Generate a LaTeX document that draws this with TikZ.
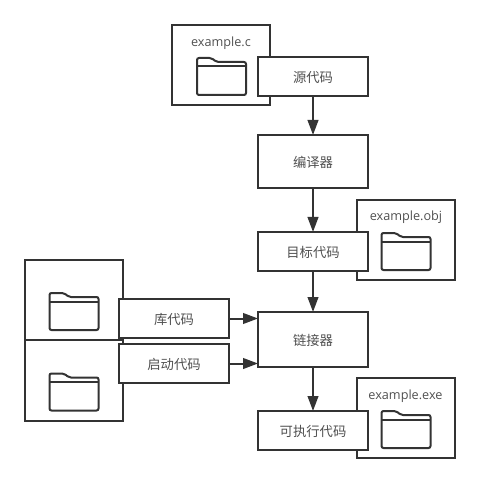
\documentclass[tikz,border=0pt]{standalone}
\usepackage{fontspec}
\setmainfont{Open Sans}
\newfontfamily\cjk{Noto Sans CJK SC}
\usepackage{xcolor}
\usetikzlibrary{arrows.meta}
\definecolor{linegray}{HTML}{333333}
\definecolor{textgray}{HTML}{505050}
\tikzset{
    filebox/.style={draw=linegray, line width=1.5pt, minimum width=73.5pt, minimum height=60pt, inner sep=0pt, outer sep=0pt},
    codebox/.style={draw=linegray, line width=1.5pt, fill=white, minimum width=82.5pt, minimum height=29.25pt, inner sep=0pt, outer sep=0pt, text=textgray, text height=10.4pt, text depth=1.2pt, font=\cjk\fontsize{10}{12}\selectfont},
    filename/.style={text=textgray, inner sep=0pt, font=\fontsize{9.5}{12}\selectfont},
    flowline/.style={draw=linegray, line width=1.5pt, -{Triangle[length=11.25pt,width=8pt]}},
    pics/folder/.style={code={
        \draw[linegray, line width=1.5pt, rounded corners=1.5pt] (-24.5,-10) -- (-24.5,-18.5) -- (-10,-18.5) -- (-5,-14.5) -- (24.5,-14.5) -- (24.5,18.5) -- (-24.5,18.5) -- cycle;
        \draw[linegray, line width=1.5pt] (-24.5,-10) -- (24.5,-10);
    }}
}
\begin{document}
\begin{tikzpicture}[x=0.75pt,y=-0.75pt]
        \useasboundingbox (0,0) rectangle (480,484);
        \node[filebox] (cfile) at (221,65) {};
        \node[filebox] (objfile) at (406,240) {};
        \node[filebox] (exefile) at (406,418) {};
        \node[filebox] (libfile) at (74,300) {};
        \node[filebox, minimum height=60.75pt] (startfile) at (74,380.5) {};

        \node[filename] (cname) at (221,43) {example.c};
        \node[filename] (objname) at (406,217) {example.obj};
        \node[filename] (exename) at (405.5,396) {example.exe};

        \pic at (221.5,76.5) {folder};
        \pic at (406,251.5) {folder};
        \pic at (406,429.5) {folder};
        \pic at (74,311.5) {folder};
        \pic at (74,392) {folder};

        \node[codebox] (source) at (313,76.5) {源代码};
        \node[codebox, minimum height=39.75pt] (compiler) at (313,161.5) {编译器};
        \node[codebox] (object) at (313,251.5) {目标代码};
        \node[codebox, minimum height=41.25pt] (linker) at (313,339.5) {链接器};
        \node[codebox] (program) at (313,430.5) {可执行代码};
        \node[codebox] (library) at (174,318.5) {库代码};
        \node[codebox] (startup) at (174,363.5) {启动代码};

        \draw[flowline] (source) -- (compiler);
        \draw[flowline] (compiler) -- (object);
        \draw[flowline] (object) -- (linker);
        \draw[flowline] (linker) -- (program);
        \draw[flowline] (library.east) -- (library.east -| linker.west);
        \draw[flowline] (startup.east) -- (startup.east -| linker.west);
    \end{tikzpicture}
\end{document}
